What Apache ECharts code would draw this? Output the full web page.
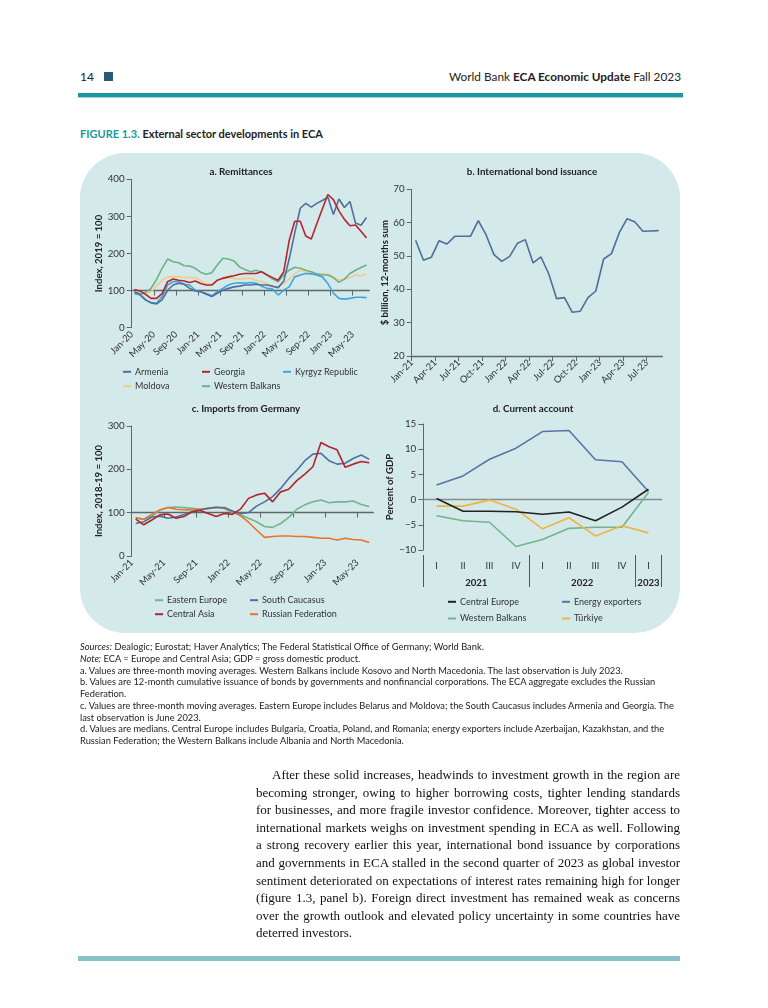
<!DOCTYPE html>
<html><head><meta charset="utf-8">
<script src="https://cdn.jsdelivr.net/npm/echarts@6/dist/echarts.min.js"></script>
<style>
html,body{margin:0;padding:0;background:#fff;}
body{width:768px;height:1008px;position:relative;overflow:hidden;font-family:Lato,"Noto Sans",sans-serif;color:#222;}
.abs{position:absolute;white-space:nowrap;}
#num{left:80px;top:69px;font-size:12px;}
#sq{left:104px;top:72px;width:9px;height:9px;background:#2b5b7b;}
#run{right:87px;top:69px;font-size:11.8px;}
#bar{left:78px;top:93px;width:605px;height:4px;background:#1a98a1;}
#bar2{left:78px;top:97px;width:605px;height:1px;background:#9fd3d6;}
#ftitle{left:80px;top:127px;font-size:11px;font-weight:bold;}
#ftitle span{color:#1a98a1;}
#panel{left:80px;top:153px;width:600px;height:480px;border-radius:45px;background:#d4e9ea;}
#chart{position:absolute;left:0;top:0;width:768px;height:1008px;}
#notes{left:80px;top:641px;font-size:9.3px;line-height:11.75px;color:#222;}
#notes i{font-style:italic;}
#body{left:256px;top:766px;width:424px;font-family:"Liberation Serif","DejaVu Serif",serif;font-size:13px;line-height:17.6px;color:#111;}
#body div{text-align:justify;text-align-last:justify;white-space:nowrap;}
#body div.last{text-align-last:left;}
#bar3{left:78px;top:956px;width:602px;height:5px;background:#86c3c9;}
</style></head>
<body>
<div class="abs" id="num">14</div>
<div class="abs" id="sq"></div>
<div class="abs" id="run">World Bank <b>ECA Economic Update</b> Fall 2023</div>
<div class="abs" id="bar"></div>
<div class="abs" id="bar2"></div>
<div class="abs" id="ftitle"><span>FIGURE 1.3.</span> External sector developments in ECA</div>
<div class="abs" id="panel"></div>
<div id="chart"></div>
<div class="abs" id="notes">
<div><i>Sources:</i> Dealogic; Eurostat; Haver Analytics; The Federal Statistical Office of Germany; World Bank.</div>
<div><i>Note:</i> ECA = Europe and Central Asia; GDP = gross domestic product.</div>
<div>a. Values are three-month moving averages. Western Balkans include Kosovo and North Macedonia. The last observation is July 2023.</div>
<div>b. Values are 12-month cumulative issuance of bonds by governments and nonfinancial corporations. The ECA aggregate excludes the Russian</div>
<div>Federation.</div>
<div>c. Values are three-month moving averages. Eastern Europe includes Belarus and Moldova; the South Caucasus includes Armenia and Georgia. The</div>
<div>last observation is June 2023.</div>
<div>d. Values are medians. Central Europe includes Bulgaria, Croatia, Poland, and Romania; energy exporters include Azerbaijan, Kazakhstan, and the</div>
<div>Russian Federation; the Western Balkans include Albania and North Macedonia.</div>
</div>
<div class="abs" id="body">
<div style="padding-left:16px">After these solid increases, headwinds to investment growth in the region are</div>
<div>becoming stronger, owing to higher borrowing costs, tighter lending standards</div>
<div>for businesses, and more fragile investor confidence. Moreover, tighter access to</div>
<div>international markets weighs on investment spending in ECA as well. Following</div>
<div>a strong recovery earlier this year, international bond issuance by corporations</div>
<div>and governments in ECA stalled in the second quarter of 2023 as global investor</div>
<div>sentiment deteriorated on expectations of interest rates remaining high for longer</div>
<div>(figure 1.3, panel b). Foreign direct investment has remained weak as concerns</div>
<div>over the growth outlook and elevated policy uncertainty in some countries have</div>
<div class="last">deterred investors.</div>
</div>
<div class="abs" id="bar3"></div>
<script>
// ---------- DATA ----------
// Panel a: remittances, monthly Jan-20 .. Jul-23 (index, 2019 = 100)
const aTickLabels = ['Jan-20','May-20','Sep-20','Jan-21','May-21','Sep-21','Jan-22','May-22','Sep-22','Jan-23','May-23'];
const aArmenia  = [97,90,75,67,64,75,101,115,120,117,106,99,97,90,84,93,101,106,110,112,115,115,117,115,115,112,108,125,185,255,322,335,325,335,343,352,305,347,324,340,282,276,297];
const aGeorgia  = [103,99,90,79,79,92,124,131,128,126,122,126,119,115,115,128,133,137,140,144,146,146,146,151,142,135,128,150,235,287,287,247,239,280,320,359,345,315,292,275,277,260,242];
const aKyrgyz   = [92,88,75,68,66,84,115,124,124,117,115,101,97,92,86,97,106,115,120,121,120,122,120,112,106,104,88,101,110,137,142,146,145,142,137,119,93,79,77,79,82,82,81];
const aMoldova  = [95,92,90,98,112,128,137,137,137,136,135,135,127,118,117,127,135,135,133,131,133,133,128,124,119,110,110,119,131,145,155,151,149,146,145,144,137,128,131,135,142,140,145];
const aWBalkans = [92,90,95,106,130,160,185,178,175,167,166,160,149,144,148,169,187,185,180,164,157,151,155,151,142,131,124,142,155,163,160,155,151,145,142,142,135,122,131,146,155,162,169];
// Panel b: international bond issuance, monthly Jan-21 .. Aug-23 ($ billion, 12-month sum)
const bTickLabels = ['Jan-21','Apr-21','Jul-21','Oct-21','Jan-22','Apr-22','Jul-22','Oct-22','Jan-23','Apr-23','Jul-23'];
const bBonds = [54.7,48.7,49.6,54.6,53.6,55.9,55.9,55.9,60.6,56.3,50.4,48.4,49.9,53.8,54.9,47.9,49.7,44.6,37.2,37.5,33.1,33.4,37.5,39.5,49.1,50.7,57.0,61.2,60.2,57.4,57.5,57.6];
// Panel c: imports from Germany, monthly Jan-21 .. Jun-23 (index, 2018-19 = 100)
const cTickLabels = ['Jan-21','May-21','Sep-21','Jan-22','May-22','Sep-22','Jan-23','May-23'];
const cEastEurope = [88,85,92,106,112,113,112,110,108,110,112,110,100,95,87,79,68,66,75,89,108,118,125,129,123,125,125,127,119,114];
const cSCaucasus  = [75,79,90,92,87,90,96,102,106,110,112,112,104,98,100,115,125,137,156,179,198,220,235,237,220,212,214,225,233,223];
const cCentAsia   = [85,72,83,95,97,87,91,102,105,98,91,98,96,108,133,141,145,125,148,154,174,189,206,262,252,245,205,212,218,215];
const cRussia     = [88,85,96,106,112,108,107,106,108,110,113,110,103,93,78,60,43,45,46,46,45,45,43,41,41,37,41,38,37,31];
// Panel d: current account, quarterly 2021Q1 .. 2023Q1 (percent of GDP)
const dQuarters = ['I','II','III','IV','I','II','III','IV','I'];
const dYears = ['2021','2022','2023'];
const dYearQuarters = [4,4,1];
const dCentralEurope = [0.2,-2.3,-2.3,-2.4,-2.9,-2.45,-4.2,-1.5,2.05];
const dEnergy        = [2.9,4.7,8.0,10.2,13.5,13.7,7.9,7.5,1.6];
const dWBalkans      = [-3.2,-4.2,-4.5,-9.3,-7.9,-5.7,-5.5,-5.5,1.4];
const dTurkiye       = [-1.3,-1.3,-0.1,-1.9,-5.8,-3.6,-7.2,-5.2,-6.6];

// ---------- STYLE ----------
const FONT = 'Lato, "Noto Sans", sans-serif';
const AX = '#5f6868';
const C = {
  armenia:'#4f6e9a', georgia:'#b3262d', kyrgyz:'#3ea6dc', moldova:'#f2cb8b', wb:'#6db287',
  ee:'#72b48b', sc:'#4f70a0', ca:'#b0242b', ru:'#e8732e',
  ce:'#222222', en:'#5676a6', wbd:'#72b48b', tr:'#f0b440', bond:'#4f6e9a'
};
const labelBase = {fontFamily:FONT, fontSize:9.4, color:'#333'};
const pts = arr => arr.map((v,i)=>[i+0.5, v]);
const range = (n,step)=>Array.from({length:n},(_,k)=>k*step);

function labelAxis(grid, n, step, labels, margin, extra){
  return Object.assign({gridIndex:grid, type:'value', min:0, max:n, interval:step, position:'bottom',
    axisLine:{show:false, onZero:false}, axisTick:{show:false}, splitLine:{show:false},
    axisLabel:Object.assign({}, labelBase, {rotate:45, margin:margin, customValues:range(labels.length,step),
      formatter:v=>{const l=labels[Math.round(v/step)]; return (l!==undefined && Math.abs(v/step-Math.round(v/step))<1e-6)?l:'';}})}, extra||{});
}
function lineAxis(grid, n, step, count, yIdx){
  return {gridIndex:grid, type:'value', min:0, max:n, interval:step, position:'bottom',
    axisLine:{show:true, onZero:true, onZeroAxisIndex:yIdx, lineStyle:{color:AX, width:1.3}},
    axisTick:{show:true, length:5, customValues:range(count,step), lineStyle:{color:AX, width:1}},
    axisLabel:{show:false}, splitLine:{show:false}};
}
function yAx(grid, min, max, interval, name, gap, fmt){
  return {gridIndex:grid, type:'value', min, max, interval,
    axisLine:{show:true, lineStyle:{color:AX, width:1}}, axisTick:{show:true, length:5, lineStyle:{color:AX}},
    axisLabel:Object.assign({}, labelBase, {fontSize:9.8, margin:7, formatter:fmt||(v=>String(v))}),
    splitLine:{show:false}, name, nameLocation:'middle', nameGap:gap,
    nameTextStyle:{fontFamily:FONT, fontSize:9.6, fontWeight:'bold', color:'#222'}};
}
function line(name, data, color, xi, yi){
  return {type:'line', name, data:pts(data), xAxisIndex:xi, yAxisIndex:yi, symbol:'none',
    lineStyle:{color, width:1.6}, itemStyle:{color}, z:3};
}
function legendItem(name, color, x, y){
  return {left:x, top:y-6, padding:0, selectedMode:false, icon:'rect', itemWidth:8, itemHeight:2, itemGap:4,
    textStyle:{fontFamily:FONT, fontSize:9, color:'#333', padding:[0,0,0,-1]},
    data:[{name, itemStyle:{color}}]};
}
function title(text, x, y){
  return {text, left:x, top:y, textAlign:'center', padding:0,
    textStyle:{fontFamily:FONT, fontSize:9.8, fontWeight:'bold', color:'#222'}};
}

const yearPos = []; {let s=0; dYearQuarters.forEach(q=>{yearPos.push(s+q/2); s+=q;});}
const yearTicks = [0]; {let s=0; dYearQuarters.forEach(q=>{s+=q; yearTicks.push(s);});}

const option = {
  animation:false,
  backgroundColor:'transparent',
  title:[
    title('a. Remittances', 241, 167),
    title('b. International bond issuance', 532, 167),
    title('c. Imports from Germany', 246, 404),
    title('d. Current account', 533, 404)
  ],
  grid:[
    {left:131.7, top:179.3, width:237.6, height:148.4},
    {left:411.7, top:189.3, width:250.7, height:166.7},
    {left:131.7, top:426, width:241.6, height:130},
    {left:423.3, top:424, width:238.4, height:126}
  ],
  xAxis:[
    labelAxis(0, aArmenia.length, 4, aTickLabels, 5),
    lineAxis(0, aArmenia.length, 4, aTickLabels.length, 1),
    Object.assign(labelAxis(1, bBonds.length, 3, bTickLabels, 5), {
      axisLine:{show:true, onZero:false, lineStyle:{color:AX, width:1.3}},
      axisTick:{show:true, length:5, customValues:range(bTickLabels.length,3), lineStyle:{color:AX}}}),
    labelAxis(2, cEastEurope.length, 4, cTickLabels, 5),
    lineAxis(2, cEastEurope.length, 4, cTickLabels.length, 4),
    {gridIndex:3, type:'value', min:0, max:dQuarters.length, position:'bottom',
      axisLine:{show:true, onZero:true, onZeroAxisIndex:5, lineStyle:{color:'#858d8d', width:1.4}},
      axisTick:{show:false}, axisLabel:{show:false}, splitLine:{show:false}},
    {gridIndex:3, type:'value', min:0, max:dQuarters.length, position:'bottom', offset:5,
      axisLine:{show:false, onZero:false},
      axisTick:{show:true, length:32, customValues:yearTicks, lineStyle:{color:'#555', width:1}},
      axisLabel:Object.assign({}, labelBase, {fontSize:9.4, margin:6, customValues:dQuarters.map((_,i)=>i+0.5),
        formatter:v=>dQuarters[Math.floor(v)]}),
      splitLine:{show:false}},
    {gridIndex:3, type:'value', min:0, max:dQuarters.length, position:'bottom', offset:5,
      axisLine:{show:false, onZero:false}, axisTick:{show:false},
      axisLabel:Object.assign({}, labelBase, {fontSize:9.6, fontWeight:'bold', color:'#222', margin:23, customValues:yearPos,
        formatter:v=>dYears[yearPos.findIndex(p=>Math.abs(p-v)<1e-6)]}),
      splitLine:{show:false}}
  ],
  yAxis:[
    yAx(0, 0, 400, 100, 'Index, 2019 = 100', 26),
    {gridIndex:0, type:'value', min:-100, max:300, show:false},
    yAx(1, 20, 70, 10, '$ billion, 12-months sum', 21),
    yAx(2, 0, 300, 100, 'Index, 2018-19 = 100', 26),
    {gridIndex:2, type:'value', min:-100, max:200, show:false},
    yAx(3, -10, 15, 5, 'Percent of GDP', 27, v=>String(v).replace('-','\u2212'))
  ],
  legend:[
    legendItem('Armenia', C.armenia, 123, 373.3),
    legendItem('Georgia', C.georgia, 202, 373.3),
    legendItem('Kyrgyz Republic', C.kyrgyz, 283, 373.3),
    legendItem('Moldova', C.moldova, 123, 387.7),
    legendItem('Western Balkans', C.wb, 202, 387.7),
    legendItem('Eastern Europe', C.ee, 155, 601.7),
    legendItem('South Caucasus', C.sc, 250, 601.7),
    legendItem('Central Asia', C.ca, 155, 615.7),
    legendItem('Russian Federation', C.ru, 250, 615.7),
    legendItem('Central Europe', C.ce, 448, 603.3),
    legendItem('Energy exporters', C.en, 562, 603.3),
    legendItem('Western Balkans', C.wbd, 448, 620),
    legendItem('Türkiye', C.tr, 562, 620)
  ],
  series:[
    line('Moldova', aMoldova, C.moldova, 0, 0),
    line('Western Balkans', aWBalkans, C.wb, 0, 0),
    line('Kyrgyz Republic', aKyrgyz, C.kyrgyz, 0, 0),
    line('Armenia', aArmenia, C.armenia, 0, 0),
    line('Georgia', aGeorgia, C.georgia, 0, 0),
    line('Bond issuance', bBonds, C.bond, 2, 2),
    line('Eastern Europe', cEastEurope, C.ee, 3, 3),
    line('Russian Federation', cRussia, C.ru, 3, 3),
    line('South Caucasus', cSCaucasus, C.sc, 3, 3),
    line('Central Asia', cCentAsia, C.ca, 3, 3),
    line('Western Balkans', dWBalkans, C.wbd, 5, 5),
    line('Türkiye', dTurkiye, C.tr, 5, 5),
    line('Energy exporters', dEnergy, C.en, 5, 5),
    line('Central Europe', dCentralEurope, C.ce, 5, 5)
  ]
};
const chart = echarts.init(document.getElementById('chart'));
chart.setOption(option);
</script>
</body></html>
